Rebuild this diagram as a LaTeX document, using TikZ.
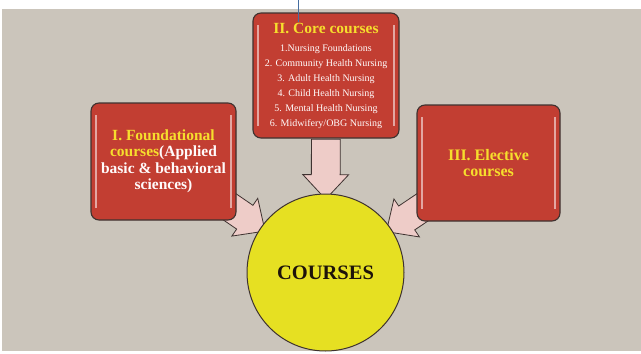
\documentclass[tikz,border=0pt]{standalone}
\usepackage{fontspec}
\setmainfont{Liberation Serif}
\usetikzlibrary{calc,shapes.arrows}

\definecolor{boardgray}{RGB}{203,197,187}
\definecolor{boxred}{RGB}{194,62,50}
\definecolor{titleyellow}{RGB}{246,222,45}
\definecolor{ballyellow}{RGB}{230,224,34}
\definecolor{arrowpink}{RGB}{238,204,200}
\definecolor{edgegray}{RGB}{62,50,48}
\definecolor{pinblue}{RGB}{70,110,160}

\pgfdeclarelayer{back}
\pgfsetlayers{back,main}

% fat arrow out of node #1, tip just short of the rim of node #2
\newcommand\fatarrow[2]{%
  \path let \p1=($(#2)!81pt!(#1)$), \p2=($(#2)!141pt!(#1)$),
            \n1={atan2(\y1-\y2,\x1-\x2)} in
    node[fatarr, rotate=\n1] (#1-#2) at ($(\p1)!0.5!(\p2)$) {};}

\begin{document}
\begin{tikzpicture}[x=1pt,y=-1pt,
    box/.style={rectangle, rounded corners=8pt, draw=edgegray, line width=1.1pt,
        fill=boxred, align=center, inner sep=2pt, text=white!93!pink,
        path picture={
          \draw[white, opacity=0.55, line width=1.2pt]
            ([xshift=5pt,yshift=-12pt]path picture bounding box.north west) --
            ([xshift=5pt,yshift=12pt]path picture bounding box.south west)
            ([xshift=-5pt,yshift=-12pt]path picture bounding box.north east) --
            ([xshift=-5pt,yshift=12pt]path picture bounding box.south east);}},
    ball/.style={circle, draw=edgegray, line width=1pt, fill=ballyellow, inner sep=0pt,
        font=\fontsize{20.5}{24}\selectfont\bfseries, text=black!85!brown},
    fatarr/.style={single arrow, draw=edgegray, line width=0.8pt, fill=arrowpink,
        minimum height=60pt, inner xsep=0pt, inner ysep=14pt,
        single arrow head extend=8.5pt, single arrow tip angle=86}]
  \useasboundingbox (0,0) rectangle (641,354);

  \node[box, minimum width=146pt, minimum height=125pt,
        font=\fontsize{10}{15}\selectfont] (core) at (326,75.5)
    {\textcolor{titleyellow}{\fontsize{15.5}{15}\selectfont\bfseries II. Core courses}\\[3pt]
     1.Nursing Foundations\\
     2. Community Health Nursing\\
     3. Adult Health Nursing\\
     4. Child Health Nursing\\
     5. Mental Health Nursing\\
     6. Midwifery/OBG Nursing};
  \node[box, minimum width=145pt, minimum height=117pt,
        font=\fontsize{15.5}{16.5}\selectfont\bfseries] (found) at (163.5,161.5)
    {\textcolor{titleyellow}{I. Foundational}\\
     \textcolor{titleyellow}{courses}(Applied\\
     basic \& behavioral\\
     sciences)};
  \node[box, minimum width=143pt, minimum height=116pt, text=titleyellow,
        font=\fontsize{16}{16.5}\selectfont\bfseries] (elect) at (488.5,163)
    {III. Elective\\ courses};
  \node[ball, minimum size=157pt] (courses) at (325.5,272.5) {COURSES};

  % stray marker line
  \coordinate (pintop) at (298,0);
  \coordinate (pinend) at (298,22);
  \draw[pinblue, line width=1pt] (pintop) -- (pinend);

  \begin{pgfonlayer}{back}
    \fill[white] (0,0) rectangle (641,354);
    \fill[boardgray] (2,9) rectangle (641,351);
    \fatarrow{found}{courses}
    \fatarrow{core}{courses}
    \fatarrow{elect}{courses}
  \end{pgfonlayer}
\end{tikzpicture}
\end{document}
